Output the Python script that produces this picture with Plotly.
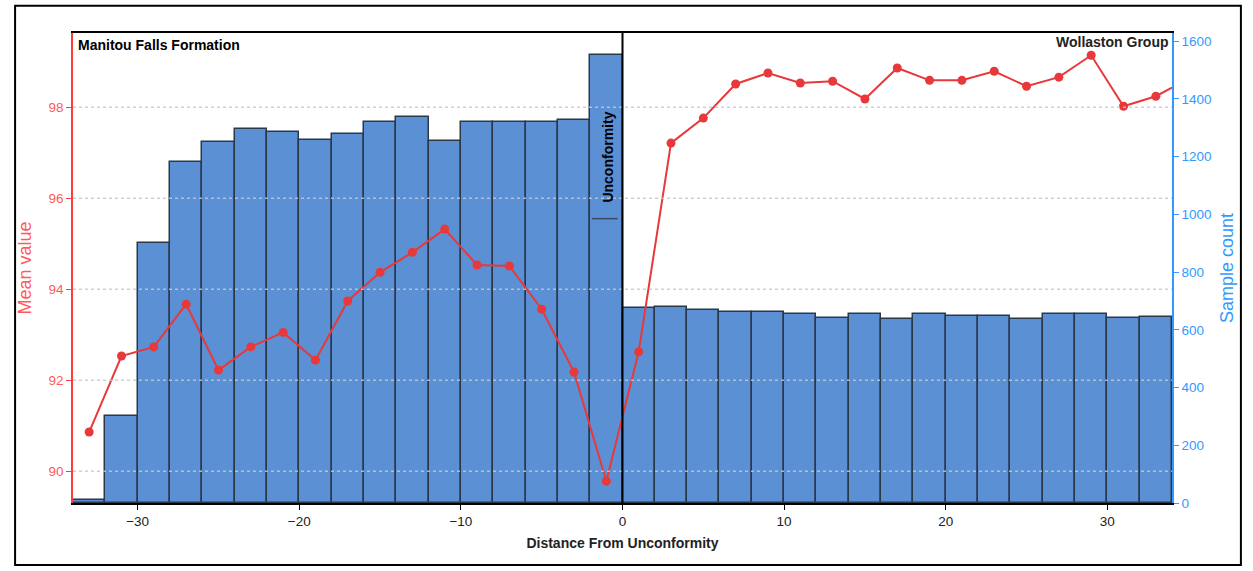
import plotly.graph_objects as go

# Bin centres (distance from unconformity)
bin_centres = [-33, -31, -29, -27, -25, -23, -21, -19, -17, -15, -13, -11, -9, -7, -5, -3, -1,
               1, 3, 5, 7, 9, 11, 13, 15, 17, 19, 21, 23, 25, 27, 29, 31, 33]
sample_count = [10, 300, 900, 1180, 1250, 1295, 1285, 1257, 1278, 1319, 1337, 1253, 1319, 1319, 1319, 1326, 1552,
                677, 680, 670, 660, 663, 653, 642, 653, 639, 653, 649, 649, 639, 653, 656, 642, 646]

mean_x = [-33, -31, -29, -27, -25, -23, -21, -19, -17, -15, -13, -11, -9, -7, -5, -3, -1,
          1, 3, 5, 7, 9, 11, 13, 15, 17, 19, 21, 23, 25, 27, 29, 31, 33, 35]
mean_value = [90.86, 92.53, 92.73, 93.67, 92.22, 92.73, 93.05, 92.44, 93.74, 94.37, 94.81, 95.32, 94.53, 94.51,
              93.56, 92.18, 89.78, 92.62, 97.21, 97.76, 98.51, 98.75, 98.53, 98.57, 98.18, 98.86, 98.59, 98.59,
              98.79, 98.46, 98.66, 99.14, 98.02, 98.24, 98.62]

x_ticks = [-30, -20, -10, 0, 10, 20, 30]
x_tick_labels = ["\u221230", "\u221220", "\u221210", "0", "10", "20", "30"]
mean_ticks = [90, 92, 94, 96, 98]
count_ticks = [0, 200, 400, 600, 800, 1000, 1200, 1400, 1600]

RED = "#e8383a"
RED_AX = "#ff3b3b"
BLUE_AX = "#3399ff"
FONT = "Liberation Sans, Arial, sans-serif"
TICK_SIZE = 13.5

fig = go.Figure()

fig.add_trace(go.Bar(
    x=bin_centres, y=sample_count, width=2, yaxis="y",
    marker=dict(color="#5b90d5", line=dict(color="#2b3848", width=1.5)),
    showlegend=False,
))

fig.add_trace(go.Scatter(
    x=mean_x, y=mean_value, yaxis="y2", mode="lines+markers",
    line=dict(color=RED, width=2),
    marker=dict(color=RED, size=9),
    showlegend=False,
))

grid_shapes = [
    dict(type="line", xref="paper", yref="y2", x0=0, x1=1, y0=v, y1=v, layer="above",
         line=dict(color="rgba(200,200,200,0.85)", width=1.5, dash="dot"))
    for v in mean_ticks
]

fig.update_layout(
    width=1253, height=571,
    margin=dict(l=73, r=81, t=33, b=68),
    paper_bgcolor="white", plot_bgcolor="white",
    font=dict(family=FONT, size=12, color="#222"),
    bargap=0,
    xaxis=dict(
        range=[-34, 34], tickvals=x_ticks, ticktext=x_tick_labels,
        showgrid=False, zeroline=False,
        showline=True, linecolor="black", linewidth=2, mirror=True,
        ticks="outside", ticklen=5, tickcolor="black",
        tickfont=dict(size=TICK_SIZE, color="#222"),
        title=dict(text="<b>Distance From Unconformity</b>", font=dict(size=14, color="#222"), standoff=10),
    ),
    yaxis=dict(
        side="right", range=[0, 1628], tickvals=count_ticks,
        showgrid=False, zeroline=False,
        showline=True, linecolor=BLUE_AX, linewidth=1.5,
        ticks="outside", ticklen=5, tickcolor=BLUE_AX,
        tickfont=dict(size=TICK_SIZE, color=BLUE_AX),
        title=dict(text="Sample count", font=dict(size=18, color=BLUE_AX), standoff=10),
    ),
    yaxis2=dict(
        side="left", overlaying="y", range=[89.3, 99.63], tickvals=mean_ticks,
        showgrid=False, zeroline=False,
        showline=True, linecolor=RED_AX, linewidth=1.5,
        ticks="outside", ticklen=5, tickcolor=RED_AX,
        tickfont=dict(size=TICK_SIZE, color="#ff5a5a"),
        title=dict(text="Mean value", font=dict(size=18, color="#ff5a5a"), standoff=12),
    ),
    shapes=grid_shapes + [
        dict(type="line", xref="x", yref="paper", x0=0, x1=0, y0=0, y1=1, layer="above",
             line=dict(color="black", width=2)),
        dict(type="line", xref="x", yref="paper", x0=-1.9, x1=-0.3, y0=0.605, y1=0.605,
             line=dict(color="#3a4a60", width=1.5)),
        dict(type="rect", xref="paper", yref="paper", x0=-0.0527, x1=1.0627, y0=-0.132, y1=1.058,
             line=dict(color="black", width=2), fillcolor="rgba(0,0,0,0)"),
    ],
    annotations=[
        dict(text="<b>Manitou Falls Formation</b>", xref="paper", yref="paper", x=0, y=1,
             xanchor="left", yanchor="top", xshift=3, yshift=-2, showarrow=False,
             font=dict(size=14, color="black")),
        dict(text="<b>Wollaston Group</b>", xref="paper", yref="paper", x=1, y=1,
             xanchor="right", yanchor="top", xshift=-1, yshift=1, showarrow=False,
             font=dict(size=14, color="#222")),
        dict(text="<b>Unconformity</b>", xref="x", yref="paper", x=0, y=0.736,
             xanchor="right", yanchor="middle", xshift=-4, textangle=-90, showarrow=False,
             font=dict(size=14, color="black")),
    ],
)

fig.write_html("out.html")
